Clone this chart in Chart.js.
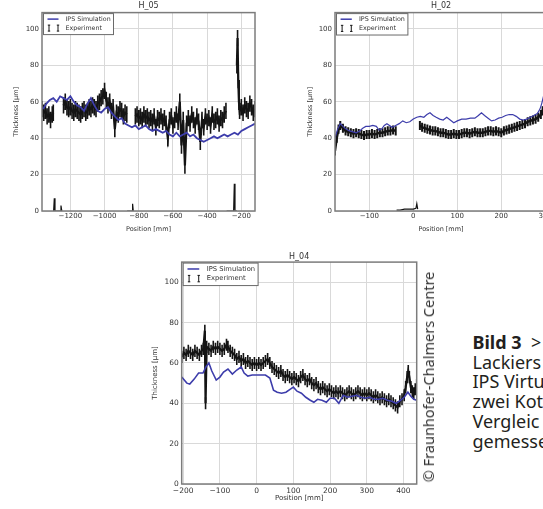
<!DOCTYPE html>
<html>
<head>
<meta charset="utf-8">
<script src="https://cdn.jsdelivr.net/npm/chart.js@4.4.0/dist/chart.umd.min.js"></script>
<style>
  html, body { margin: 0; padding: 0; background: #fff; overflow: hidden; }
  #page { position: relative; width: 543px; height: 509px; overflow: hidden; background: #fff; }
  .panel { position: absolute; }
  .panel canvas { display: block; }
  #credit {
    position: absolute; left: 428px; top: 377px;
    transform: translate(-50%, -50%) rotate(-90deg);
    font: 14.5px 'Noto Sans', sans-serif; color: #333; white-space: nowrap;
  }
  #caption {
    position: absolute; left: 472.5px; top: 333px;
    font: 18px/19.7px 'Noto Sans', sans-serif; color: #231f20; white-space: nowrap;
  }
</style>
</head>
<body>
<div id="page">
  <div class="panel" style="left:0;top:0"><canvas id="h05" width="265" height="233"></canvas></div>
  <div class="panel" style="left:300px;top:0"><canvas id="h02" width="260" height="233"></canvas></div>
  <div class="panel" style="left:145px;top:250px"><canvas id="h04" width="280" height="252"></canvas></div>
  <div id="credit">© Fraunhofer-Chalmers Centre</div>
  <div id="caption"><b>Bild 3</b>&nbsp;&nbsp;&gt;<br>Lackiers<br>IPS Virtu<br>zwei Kot<br>Vergleic<br>gemesse</div>
</div>
<script>
const FONT = 'DejaVu Sans';
const SIM_COLOR = '#3d3dab';
const EXP_COLOR = '#141414';

// ---- H_05 ----
const h05SimX = [-1360,-1340,-1320,-1300,-1280,-1260,-1240,-1220,-1200,-1180,-1160,-1140,-1120,-1100,-1080,-1060,-1040,-1020,-1000,-980,-960,-940,-920,-900,-880,-860,-840,-820,-800,-780,-760,-740,-720,-700,-680,-660,-640,-620,-600,-580,-560,-540,-520,-500,-480,-460,-440,-420,-400,-380,-360,-340,-320,-300,-280,-260,-240,-220,-200,-180,-160,-140,-120];
const h05SimY = [56,59,61,62,60,63,62,61,63,60,58,57,55,59,62,58,55,54,56,57,54,52,50,51,48,47,46,47,45,46,47,45,44,45,44,43,44,42,41,43,41,42,43,41,42,40,39,38,39,40,41,40,41,42,41,42,43,42,44,45,46,47,48];
const h05ExpX = [-1366,-1356,-1346,-1336,-1326,-1316,-1306,-1300, -1298,
  -1240,-1230,-1220,-1210,-1200,-1190,-1180,-1170,-1160,-1150,-1140,-1130,-1120,-1110,-1100,-1090,-1080,-1070,-1060,-1050,-1040,-1030,-1020,-1010,-1000,-990,-980,-970,-960,-950,-940,-930,-920,-910,-900,-890,-880,-870, -868,
  -820,-810,-800,-790,-780,-770,-760,-750,-740,-730,-720,-710,-700,-690,-680,-670,-660,-650,-640,-630,-620,-610,-600,-590,-580,-570,-560,-550,-540,-530,-520,-510,-500,-490,-480,-470,-460,-450,-440,-430,-420,-410,-400,-390,-380,-370,-360,-350,-340,-330,-320,-310,-300,-290, -288,
  -226,-222,-218,-214,-210,-200,-190,-180,-170,-160,-150,-140,-130,-120];
const h05ExpY = [56,54,55,52,53,50,53,54, null,
  58,60,57,56,57,55,54,56,55,54,53,55,56,54,55,57,56,58,57,56,59,60,62,63,66,61,58,60,55,57,45,54,53,56,55,52,54,53, null,
  52,53,51,52,50,53,51,52,50,51,49,52,46,51,50,52,49,51,48,40,50,52,47,50,53,49,60,36,50,25,48,51,48,53,50,47,52,49,38,50,46,52,49,51,47,53,49,50,52,48,51,50,53,55, null,
  80,95,72,60,55,57,54,58,56,55,59,57,54,56];
const h05ZeroX = [-1298,-1294,-1290,-1270,-1258,-1255,-1250,-1000,-868,-855,-845,-838,-836,-832,-500,-286,-270,-255,-245,-241,-237,-225];
const h05ZeroY = [0,7,0,0,0,3,0,null,0,0,0,0,4,0,null,0,0,0,0,15,0,0];
const h05Err = 4.5;

// ---- H_02 ----
const h02SimX = [-178,-172,-166,-160,-153,-145,-137,-130,-122,-115,-108,-100,-92,-84,-78,-72,-66,-60,-54,-48,-40,-32,-24,-16,-8,0,8,16,24,31,38,45,52,60,68,76,84,92,100,110,120,130,140,148,155,162,170,178,186,194,202,210,218,226,234,242,250,258,266,274,282,288,292,296,300,304];
const h02SimY = [40,45,48,46.5,45,44,43.5,43,44,45.5,46.5,46.5,47,46.5,44.5,45,47,48,47,46,47,48,49.5,48.5,49,50.5,51.5,52,51.5,53,54,52.5,51.5,50.5,50,51.5,50,48.5,49.5,50.5,50.5,51,51,52.5,54,52.5,51,49.5,50,51,51.5,52.5,53,53,52,50.5,50,50.5,51.5,52.5,53.5,56,59,63,68,70];
const h02ExpX = [-178,-174,-170,-166,-160,-154,-148,-142,-136,-130,-124,-118,-112,-106,-100,-94,-88,-82,-76,-70,-64,-58,-52,-46,-40, -39,
  15,20,26,32,38,44,50,56,62,68,74,80,86,92,98,104,110,116,122,128,134,140,146,152,158,164,170,176,182,188,194,200,206,212,218,224,230,236,242,248,254,260,266,272,278,284,290,294,298,302];
const h02ExpY = [33,40,45,47,45.5,44,43.5,43,42.5,43,42.5,42,41.5,42,42,42.5,42,42.5,43,43,43.5,44,44,44.5,44, null,
  47,46,45.5,45,44.5,44,44,43.5,43,43,42.5,42,42,42.5,42,42,42.5,43,43,42.5,43,43.5,43,43,43,43.5,44,44,43.5,44,43.5,43,44,44.5,45,45.5,46,46.5,47,47.5,48,49,49.5,50,50.5,51.5,53,55,58,63];
const h02ZeroX = [-38,-30,-20,-10,0,6,8,10];
const h02ZeroY = [0.5,0.5,1,1,1,1.5,4,1];
const h02Err = 2.5;

// ---- H_04 ----
const h04SimX = [-204,-190,-182,-170,-158,-146,-138,-130,-122,-110,-100,-90,-78,-66,-54,-42,-34,-24,-12,0,12,24,36,46,56,68,80,92,100,110,122,134,146,156,166,178,190,200,212,224,236,248,260,272,284,296,308,320,332,344,356,368,380,392,402,412,420,428,436];
const h04SimY = [53,50,49.5,52,55,55,58,60,56,51.5,53,55.5,57,54.5,56.5,58,55,53.5,54,54,54,54,52.5,46.5,45.5,45,45.5,47,48,46,45,43,41.5,40.5,42,41.5,40.5,42.5,42.5,40,44,43,43.5,44,43,42.5,43,42,42,42.5,41.5,41,40,41.5,43,45.5,43.5,42,41.5];
const h04ExpX = [-204,-198,-192,-186,-180,-174,-168,-162,-156,-150,-145,-141,-139,-136,-130,-124,-118,-112,-106,-100,-94,-88,-82,-78,-72,-66,-60,-54,-48,-42,-36,-30,-24,-18,-12,-6,0,6,12,18,24,30,36,42,48,54,60,66,72,78,84,90,96,102,108,114,120,126,132,138,144,150,156,162,168,174,180,186,192,198,204,210,216,222,228,234,240,246,252,258,264,270,276,282,288,294,300,306,312,318,324,330,336,342,348,354,360,366,372,378,384,390,396,402,406,410,413,416,420,424,428,432,436];
const h04ExpY = [63,65,64,66,65,64,66,65,64,66,67,76,40,68,67,66,68,67,68,67,66,67,69,68,66,65,64,62,63,61,62,60,61,60,59,60,59,60,59,60,61,62,60,58,57,56,55,56,54,53,54,53,52,53,52,51,53,54,52,51,52,50,49,50,48,47,48,47,46,47,46,45,46,45,46,45,44,45,46,45,44,45,46,45,44,45,44,45,44,43,44,43,42,43,42,41,42,41,40,39,38,41,42,44,48,53,56,53,48,46,45,47,49];
const h04Err = 3;

const pts = (xs, ys) => xs.map((x, i) => ({ x, y: ys[i] }));
const minus = v => (v < 0 ? '\u2212' + Math.abs(v) : String(v));

// vertical error bars under the experiment line
const errorBars = {
  id: 'errorBars',
  beforeDatasetsDraw(chart) {
    const { ctx, chartArea: a } = chart;
    const yScale = chart.scales.y;
    chart.data.datasets.forEach((ds, i) => {
      if (!ds.yErr) return;
      const meta = chart.getDatasetMeta(i);
      ctx.save();
      ctx.beginPath();
      ctx.rect(a.left, a.top, a.width, a.height);
      ctx.clip();
      ctx.strokeStyle = ds.borderColor;
      ctx.lineWidth = ds.errWidth || 1;
      ctx.beginPath();
      meta.data.forEach((pt, j) => {
        const v = ds.data[j].y;
        if (v == null) return;
        ctx.moveTo(pt.x, yScale.getPixelForValue(v + ds.yErr));
        ctx.lineTo(pt.x, yScale.getPixelForValue(v - ds.yErr));
      });
      ctx.stroke();
      ctx.restore();
    });
  }
};

// axes frame + matplotlib style inset legend
const panelDecor = {
  id: 'panelDecor',
  afterDatasetsDraw(chart, args, opts) {
    const { ctx, chartArea: a } = chart;
    ctx.save();
    ctx.strokeStyle = '#7c7c7c';
    ctx.lineWidth = 1.5;
    ctx.strokeRect(a.left, a.top, a.width, a.height);

    const s = opts.legendScale || 1;
    const bx = a.left + 1.5, by = a.top + 1, bw = 70 * s, bh = 21 * s;
    ctx.fillStyle = '#fff';
    ctx.fillRect(bx, by, bw, bh);
    ctx.strokeStyle = '#6a6a6a';
    ctx.lineWidth = 1;
    ctx.strokeRect(bx, by, bw, bh);

    const [sim, exp] = chart.data.datasets;
    const r1 = by + 5.5 * s, r2 = by + 14.5 * s;
    ctx.strokeStyle = sim.borderColor;
    ctx.lineWidth = 1.5;
    ctx.beginPath(); ctx.moveTo(bx + 4 * s, r1); ctx.lineTo(bx + 15 * s, r1); ctx.stroke();
    ctx.strokeStyle = exp.borderColor;
    ctx.lineWidth = 1;
    [5.5, 14.5].forEach(dx => {
      const cx = bx + dx * s;
      ctx.beginPath();
      ctx.moveTo(cx, r2 - 3 * s); ctx.lineTo(cx, r2 + 3 * s);
      ctx.moveTo(cx - 1.2, r2 - 3 * s); ctx.lineTo(cx + 1.2, r2 - 3 * s);
      ctx.moveTo(cx - 1.2, r2 + 3 * s); ctx.lineTo(cx + 1.2, r2 + 3 * s);
      ctx.stroke();
    });
    ctx.fillStyle = '#333';
    ctx.font = `${6.3 * s}px '${FONT}'`;
    ctx.textBaseline = 'middle';
    ctx.fillText(sim.label, bx + 22 * s, r1);
    ctx.fillText(exp.label, bx + 22 * s, r2);
    ctx.restore();
  }
};

function panel(id, cfg) {
  const datasets = [
    { label: 'IPS Simulation', data: pts(cfg.simX, cfg.simY), borderColor: SIM_COLOR, borderWidth: cfg.simWidth, order: 0 },
    { label: 'Experiment', data: pts(cfg.expX, cfg.expY), borderColor: EXP_COLOR, borderWidth: cfg.expWidth,
      yErr: cfg.err, errWidth: cfg.errWidth, order: 1 },
  ];
  if (cfg.zeroX) {
    datasets.push({ label: 'Experiment', data: pts(cfg.zeroX, cfg.zeroY), borderColor: EXP_COLOR, borderWidth: 1.2, order: 2 });
  }
  const tickFont = { family: FONT, size: cfg.tickSize };
  const titleFont = { family: FONT, size: cfg.labelSize };
  return new Chart(document.getElementById(id), {
    type: 'line',
    data: { datasets },
    options: {
      responsive: false, animation: false, events: [],
      layout: { padding: cfg.pad },
      elements: { point: { radius: 0 }, line: { tension: 0, fill: false } },
      spanGaps: false,
      plugins: {
        legend: { display: false },
        tooltip: { enabled: false },
        title: { display: true, text: cfg.title, fullSize: false, color: '#333',
          font: { family: FONT, size: 8, weight: 'normal' }, padding: cfg.titlePad },
        panelDecor: { legendScale: cfg.legendScale },
      },
      scales: {
        x: {
          type: 'linear', min: cfg.xMin, max: cfg.xMax,
          ticks: { stepSize: cfg.xStep, includeBounds: false, padding: cfg.xTickPad, maxRotation: 0, autoSkip: false,
            color: '#333', font: tickFont, callback: minus },
          grid: { color: '#d9d9d9', drawTicks: false },
          border: { display: false },
          title: { display: true, text: 'Position [mm]', color: '#333', font: titleFont, padding: { top: 0, bottom: 0 } },
          afterFit: sc => { sc.height = cfg.xAxisH; },
        },
        y: {
          min: 0, max: cfg.yMax,
          ticks: { stepSize: 20, includeBounds: false, padding: 3, color: '#333', font: tickFont },
          grid: { color: '#d9d9d9', drawTicks: false },
          border: { display: false },
          title: { display: true, text: 'Thickness [µm]', color: '#333', font: titleFont, padding: { top: cfg.yTitlePad, bottom: 0 } },
          afterFit: sc => { sc.width = cfg.yAxisW; },
        },
      },
    },
    plugins: [errorBars, panelDecor],
  });
}

panel('h05', {
  title: 'H_05', simX: h05SimX, simY: h05SimY, expX: h05ExpX, expY: h05ExpY, zeroX: h05ZeroX, zeroY: h05ZeroY,
  err: h05Err, simWidth: 1.8, expWidth: 2.2, errWidth: 1.6, xMin: -1366, xMax: -120, xStep: 200, yMax: 109,
  pad: { left: 0, right: 10, top: 0, bottom: 0 }, titlePad: { top: 1, bottom: 2 },
  yAxisW: 42, xAxisH: 22, yTitlePad: 12, xTickPad: 1, tickSize: 7, labelSize: 6.5, legendScale: 1,
});

panel('h02', {
  title: 'H_02', simX: h02SimX, simY: h02SimY, expX: h02ExpX, expY: h02ExpY, zeroX: h02ZeroX, zeroY: h02ZeroY,
  err: h02Err, simWidth: 1.2, expWidth: 2.4, errWidth: 2, xMin: -178, xMax: 304, xStep: 100, yMax: 109,
  pad: { left: 0, right: 13, top: 0, bottom: 0 }, titlePad: { top: 1, bottom: 2 },
  yAxisW: 35, xAxisH: 22, yTitlePad: 6, xTickPad: 1, tickSize: 7, labelSize: 6.5, legendScale: 1.02,
});

panel('h04', {
  title: 'H_04', simX: h04SimX, simY: h04SimY, expX: h04ExpX, expY: h04ExpY,
  err: h04Err, simWidth: 1.6, expWidth: 2.2, errWidth: 1.6, xMin: -204, xMax: 436, xStep: 100, yMax: 110,
  pad: { left: 0, right: 8.3, top: 0, bottom: 0 }, titlePad: { top: 2, bottom: 0.5 },
  yAxisW: 36.7, xAxisH: 18, yTitlePad: 5.8, xTickPad: 3, tickSize: 7.5, labelSize: 7, legendScale: 1.07,
});
</script>
</body>
</html>
